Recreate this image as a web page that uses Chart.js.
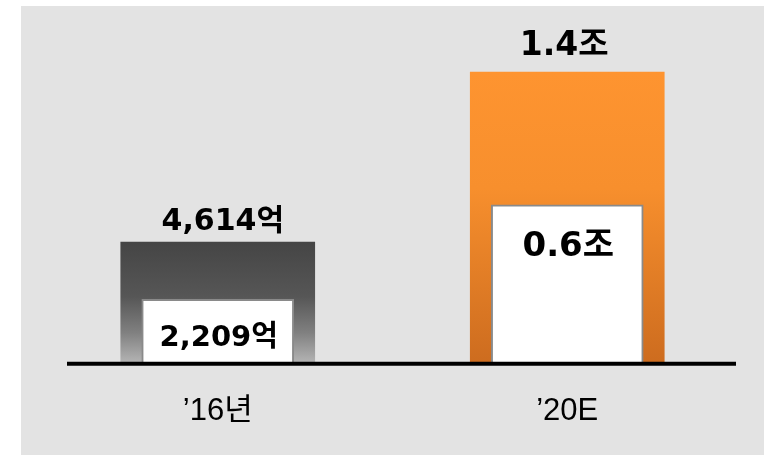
<!DOCTYPE html>
<html lang="ko">
<head>
    <meta charset="UTF-8">
    <title>시장 규모</title>
    <script src="https://cdn.jsdelivr.net/npm/chart.js"></script>
    <style>
        html, body { margin: 0; padding: 0; background: #ffffff; }
        #wrap { width: 767px; height: 455px; }
    </style>
</head>
<body>
    <div id="wrap"><canvas id="chart" width="767" height="455"></canvas></div>

    <script>
        // Données (hauteurs, le graphique d'origine n'est pas à l'échelle)
        const categories = ["’16년", "’20E"];
        const totalHeights = [120, 289];
        const innerHeights = [63, 157];
        const totalLabels = ["4,614억", "1.4조"];
        const innerLabels = ["2,209억", "0.6조"];

        function barGradient(c, stops) {
            const chart = c.chart;
            if (!chart.chartArea) return stops[0][1];
            const y = chart.scales.y;
            const top = y.getPixelForValue(c.raw);
            const bottom = y.getPixelForValue(0);
            const g = chart.ctx.createLinearGradient(0, top, 0, bottom);
            stops.forEach(s => g.addColorStop(s[0], s[1]));
            return g;
        }

        const greyStops = [[0, "#454545"], [0.45, "#565656"], [0.75, "#808080"], [1, "#b4b4b4"]];
        const orangeStops = [[0, "#fe9430"], [0.4, "#f78f2d"], [1, "#cd6c1f"]];

        // réglages des étiquettes
        const topOffsets = [20, 26];
        const topShift = [5, -3];
        const topSizes = [30, 33];
        const innerOffsets = [39, 42];
        const innerSizes = [29, 34];

        // fond gris, ligne de base et étiquettes
        const decor = {
            id: "decor",
            beforeDraw(chart) {
                const ctx = chart.ctx;
                ctx.save();
                ctx.fillStyle = "#e3e3e3";
                ctx.fillRect(21, 6, 743, 449);
                ctx.restore();
            },
            afterDatasetsDraw(chart) {
                const ctx = chart.ctx;
                const y0 = chart.scales.y.getPixelForValue(0);
                ctx.save();
                ctx.strokeStyle = "#000";
                ctx.lineWidth = 4;
                ctx.beginPath();
                ctx.moveTo(67, y0 + 1);
                ctx.lineTo(736, y0 + 1);
                ctx.stroke();

                ctx.fillStyle = "#000";
                ctx.textAlign = "center";
                ctx.textBaseline = "middle";
                const outer = chart.getDatasetMeta(1).data;
                const inner = chart.getDatasetMeta(0).data;
                outer.forEach((bar, i) => {
                    ctx.font = "bold " + topSizes[i] + "px 'DejaVu Sans', 'Noto Sans CJK KR'";
                    ctx.fillText(totalLabels[i], bar.x + topShift[i], bar.y - topOffsets[i]);
                });
                inner.forEach((bar, i) => {
                    ctx.font = "bold " + innerSizes[i] + "px 'DejaVu Sans', 'Noto Sans CJK KR'";
                    ctx.fillText(innerLabels[i], bar.x + 1, bar.y + innerOffsets[i]);
                });
                ctx.restore();
            }
        };

        const ctx = document.getElementById("chart").getContext("2d");
        const chart = new Chart(ctx, {
            type: "bar",
            data: {
                labels: categories,
                datasets: [{
                    label: "inner",
                    data: innerHeights,
                    backgroundColor: "#ffffff",
                    borderColor: "#8a8a8a",
                    borderWidth: { top: 2, left: 2, right: 2, bottom: 0 },
                    barThickness: 152,
                    grouped: false
                }, {
                    label: "total",
                    data: totalHeights,
                    backgroundColor: c => barGradient(c, c.dataIndex === 0 ? greyStops : orangeStops),
                    borderWidth: 0,
                    barThickness: 194,
                    grouped: false
                }]
            },
            options: {
                responsive: false,
                animation: false,
                layout: { padding: { left: 43, right: 25, top: 61, bottom: -5 } },
                plugins: {
                    legend: { display: false },
                    tooltip: { enabled: false }
                },
                scales: {
                    x: {
                        grid: { display: false, drawTicks: false },
                        border: { display: false },
                        ticks: {
                            color: "#000",
                            padding: 30,
                            font: { family: "'Liberation Sans Narrow', 'Liberation Sans', 'Noto Sans CJK KR'", size: 31 }
                        }
                    },
                    y: {
                        display: false,
                        min: 0,
                        max: 300
                    }
                }
            },
            plugins: [decor]
        });
    </script>
</body>
</html>
